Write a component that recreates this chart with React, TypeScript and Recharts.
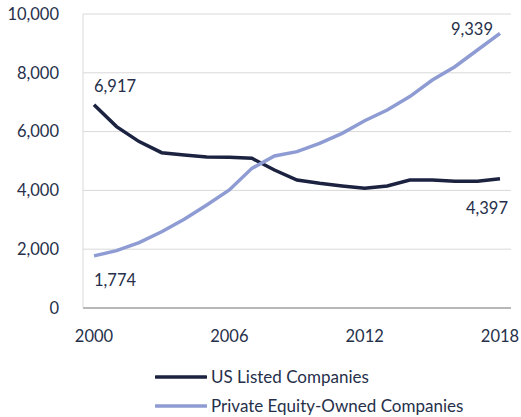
import React from 'react';
import { LineChart, Line, XAxis, YAxis, CartesianGrid, Legend } from 'recharts';

const years = [2000, 2001, 2002, 2003, 2004, 2005, 2006, 2007, 2008, 2009, 2010, 2011, 2012, 2013, 2014, 2015, 2016, 2017, 2018];
const usListed = [6917, 6170, 5660, 5283, 5204, 5136, 5125, 5092, 4694, 4354, 4240, 4150, 4070, 4150, 4354, 4354, 4308, 4308, 4397];
const peOwned = [1774, 1950, 2222, 2595, 3016, 3503, 4014, 4750, 5170, 5317, 5600, 5940, 6370, 6735, 7190, 7755, 8207, 8775, 9339];
const yTicks = [0, 2000, 4000, 6000, 8000, 10000];
const xTicks = [2000, 2006, 2012, 2018];

const DARK = '#1b2341';
const LIGHT = '#8e9cd3';
const TEXT = '#26304a';
const FONT = 'Lato, "Open Sans", sans-serif';

const data = years.map((y, i) => ({ year: y, us: usListed[i], pe: peOwned[i] }));
const fmt = (v: number) => v.toLocaleString('en-US');

const makeLabel = (series: 'us' | 'pe') => (props: any) => {
  const { x, y, index, value } = props;
  const last = years.length - 1;
  if (index !== 0 && index !== last) return null;
  let dx = 0, dy = 0, anchor: 'start' | 'end' = 'start';
  if (series === 'us') {
    if (index === 0) { dx = 0; dy = -19; anchor = 'start'; }
    else { dx = 8; dy = 29; anchor = 'end'; }
  } else {
    if (index === 0) { dx = 0; dy = 24; anchor = 'start'; }
    else { dx = -7; dy = -4; anchor = 'end'; }
  }
  return (
    <text key={`${series}-${index}`} x={x + dx} y={y + dy} textAnchor={anchor} dominantBaseline="central"
      fill={TEXT} fontSize={16.5} fontFamily={FONT}>
      {fmt(value)}
    </text>
  );
};

const LegendContent = () => (
  <div style={{ fontFamily: FONT, fontSize: 17, color: TEXT, paddingLeft: 155, paddingTop: 16 }}>
    {[{ c: DARK, t: 'US Listed Companies' }, { c: LIGHT, t: 'Private Equity-Owned Companies' }].map((it) => (
      <div key={it.t} style={{ display: 'flex', alignItems: 'center', height: 29 }}>
        <svg width={52} height={6} style={{ marginRight: 4 }}>
          <line x1={1} y1={3} x2={51} y2={3} stroke={it.c} strokeWidth={3.5} strokeLinecap="round" />
        </svg>
        <span>{it.t}</span>
      </div>
    ))}
  </div>
);

export default function App() {
  return (
    <div style={{ position: 'absolute', left: 0, top: 0, background: '#fff' }}>
      <LineChart width={521} height={417} data={data} margin={{ top: 14, right: 10, left: 0, bottom: 0 }}>
        <CartesianGrid vertical={false} stroke="#d9d9d9" />
        <XAxis dataKey="year" ticks={xTicks} interval={0} padding={{ left: 11, right: 11 }}
          tickLine={false} axisLine={{ stroke: '#a6a6a6', strokeWidth: 1.5 }} height={38} tickMargin={16}
          tick={{ fill: TEXT, fontSize: 16.5, fontFamily: FONT }} />
        <YAxis domain={[0, 10000]} ticks={yTicks} width={83} tickLine={false}
          axisLine={{ stroke: '#d9d9d9' }} tickMargin={18} tickFormatter={fmt}
          tick={{ fill: TEXT, fontSize: 16.5, fontFamily: FONT }} />
        <Legend verticalAlign="bottom" align="left" height={71} content={<LegendContent />} />
        <Line type="linear" dataKey="us" name="US Listed Companies" stroke={DARK} strokeWidth={3.5}
          dot={false} isAnimationActive={false} label={makeLabel('us')} />
        <Line type="linear" dataKey="pe" name="Private Equity-Owned Companies" stroke={LIGHT} strokeWidth={3.5}
          dot={false} isAnimationActive={false} label={makeLabel('pe')} />
      </LineChart>
    </div>
  );
}
